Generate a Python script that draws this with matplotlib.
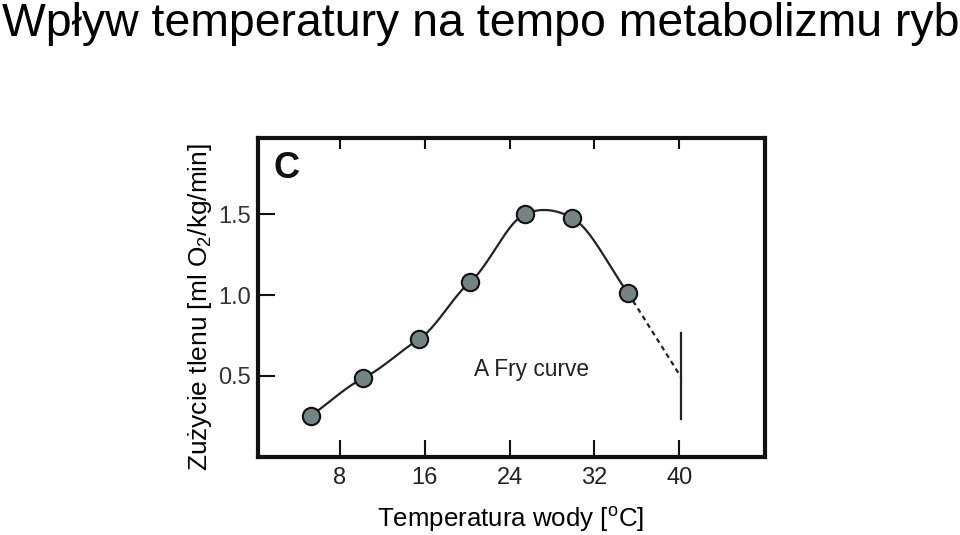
import numpy as np
import matplotlib
matplotlib.use("Agg")
import matplotlib.pyplot as plt

plt.rcParams['font.family'] = ['Liberation Sans', 'DejaVu Sans']
plt.rcParams['mathtext.fontset'] = 'custom'
plt.rcParams['mathtext.rm'] = 'Liberation Sans'

# data
temps = [5.3, 10.2, 15.45, 20.3, 25.45, 29.9, 35.2]
oxygen = [0.255, 0.486, 0.727, 1.082, 1.50, 1.477, 1.01]
dash_x = [35.2, 40.2]
dash_y = [1.01, 0.49]
lethal_x = 40.2
lethal_y = [0.235, 0.765]
x_ticks = [8, 16, 24, 32, 40]
y_ticks = [0.5, 1.0, 1.5]
y_tick_labels = ["0.5", "1.0", "1.5"]


def smooth_curve(x, y, tension=0.7, n=60):
    """Cardinal cubic Hermite curve through the points."""
    x = np.asarray(x, float)
    y = np.asarray(y, float)
    m = len(x)
    d = np.empty(m)
    d[0] = (y[1] - y[0]) / (x[1] - x[0])
    d[-1] = (y[-1] - y[-2]) / (x[-1] - x[-2])
    for i in range(1, m - 1):
        d[i] = tension * (y[i + 1] - y[i - 1]) / (x[i + 1] - x[i - 1])
    xs_all, ys_all = [], []
    for i in range(m - 1):
        h = x[i + 1] - x[i]
        t = np.linspace(0, 1, n)
        h00 = 2 * t ** 3 - 3 * t ** 2 + 1
        h10 = t ** 3 - 2 * t ** 2 + t
        h01 = -2 * t ** 3 + 3 * t ** 2
        h11 = t ** 3 - t ** 2
        xs_all.append(x[i] + t * h)
        ys_all.append(h00 * y[i] + h10 * h * d[i] + h01 * y[i + 1] + h11 * h * d[i + 1])
    return np.concatenate(xs_all), np.concatenate(ys_all)


fig = plt.figure(figsize=(9.6, 5.35), dpi=100)
ax = fig.add_axes([0.269, 0.146, 0.528, 0.596])

xs, ys = smooth_curve(temps, oxygen)
ax.plot(xs, ys, color='#222222', lw=1.6, zorder=2)
ax.plot(dash_x, dash_y, color='#222222', lw=1.6, ls=(0, (2.2, 1.8)), zorder=2)
ax.plot([lethal_x, lethal_x], lethal_y, color='#222222', lw=1.6, zorder=2)
ax.plot(temps, oxygen, 'o', ms=12.5, mfc='#738482', mec='#111111', mew=1.5, zorder=3)

ax.set_xlim(0.3, 48.1)
ax.set_ylim(0, 1.97)
ax.set_xticks(x_ticks)
ax.set_xticklabels([str(t) for t in x_ticks])
ax.set_yticks(y_ticks)
ax.set_yticklabels(y_tick_labels)

for s in ax.spines.values():
    s.set_linewidth(3.0)
    s.set_color('#111111')

ax.tick_params(axis='x', direction='in', length=12, width=1.5, pad=7,
               labelsize=17, labelcolor='#222222', top=True, color='#111111')
ax.tick_params(axis='y', direction='in', length=12, width=1.5, pad=5,
               labelsize=17, labelcolor='#333333', color='#111111')
for t in ax.xaxis.get_major_ticks():
    t.tick2line.set_markersize(8)

ax.text(3.0, 1.78, "C", fontsize=26, fontweight='bold', ha='center', va='center', color='#111111')
ax.text(20.6, 0.537, "A Fry curve", fontsize=16.4, ha='left', va='center', color='#222222')

fig.text(0.002, 0.933, "Wpływ temperatury na tempo metabolizmu ryb", fontsize=33.4,
         ha='left', va='baseline', color='black')
fig.text(200 / 960, 1 - 307 / 535, "Zużycie tlenu [ml O$\\mathregular{_2}$/kg/min]",
         rotation=90, fontsize=18.9, ha='center', va='center', color='black')
fig.text(511 / 960, 1 - 520 / 535, "Temperatura wody [$\\mathregular{^o}$C]",
         fontsize=18.6, ha='center', va='center', color='black')

fig.savefig("out.png", dpi=100)
